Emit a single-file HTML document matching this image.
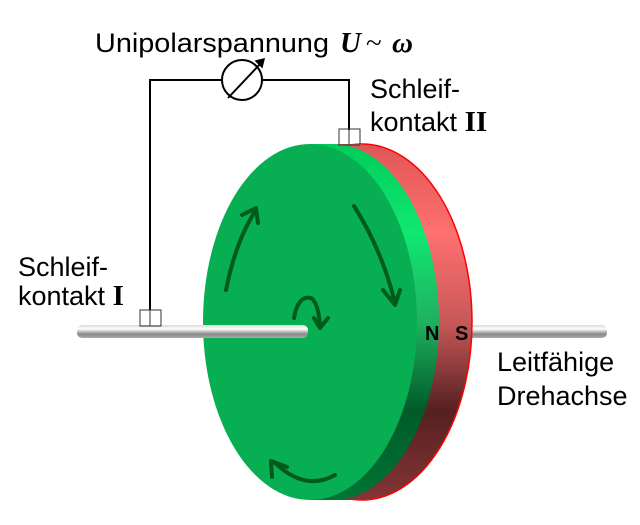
<!DOCTYPE html>
<html><head><style>
html,body{margin:0;padding:0;background:#fff;}
svg{display:block;}
</style></head><body>
<svg width="640" height="525" viewBox="0 0 640 525" xmlns="http://www.w3.org/2000/svg" font-family="Liberation Sans, sans-serif">
<defs>
<linearGradient id="rg" x1="0" y1="0" x2="0" y2="1">
<stop offset="0" stop-color="#e05555"/>
<stop offset="0.25" stop-color="#ff7070"/>
<stop offset="0.5" stop-color="#c85858"/>
<stop offset="0.75" stop-color="#552020"/>
<stop offset="1" stop-color="#853535"/>
</linearGradient>
<linearGradient id="gg" x1="0" y1="0" x2="0" y2="1">
<stop offset="0" stop-color="#00cc5a"/>
<stop offset="0.25" stop-color="#10e872"/>
<stop offset="0.5" stop-color="#20b060"/>
<stop offset="0.75" stop-color="#005a28"/>
<stop offset="1" stop-color="#007535"/>
</linearGradient>
<linearGradient id="ax" x1="0" y1="0" x2="0" y2="1">
<stop offset="0" stop-color="#d8d8d8"/>
<stop offset="0.3" stop-color="#ffffff"/>
<stop offset="0.7" stop-color="#888"/>
<stop offset="1" stop-color="#aaa"/>
</linearGradient>
</defs>
<rect x="460" y="325" width="147" height="13" rx="5" fill="url(#ax)"/>
<g fill="url(#rg)">
<ellipse cx="362" cy="322" rx="110" ry="178" stroke="#ff0000" stroke-width="1.5"/>
<rect x="312" y="144" width="50" height="356"/>
</g>
<g fill="url(#gg)">
<ellipse cx="333" cy="322" rx="106" ry="178"/>
<rect x="310" y="144" width="23" height="356"/>
</g>
<ellipse cx="310" cy="322" rx="107" ry="178" fill="#08ae52"/>
<text x="425" y="340" font-size="20" font-weight="bold" fill="#000">N</text>
<text x="455" y="340" font-size="20" font-weight="bold" fill="#000">S</text>
<rect x="77" y="325" width="231" height="13" rx="5" fill="url(#ax)"/>
<g fill="none" stroke="#005a1a" stroke-width="4" stroke-linecap="round" stroke-linejoin="round">
<path d="M226,290 Q236,240 256,210"/>
<path d="M242,215 L256,208 L258,223"/>
<path d="M354,206 Q382,250 395,303"/>
<path d="M383,290 L395,305 L400,290"/>
<path d="M294,318 Q298,295 311,298 Q318,302 320,325"/>
<path d="M314,318 L320,328 L328,318"/>
<path d="M335,475 Q305,492 274,462"/>
<path d="M272,477 L271,461 L287,467"/>
</g>
<polyline points="150,310 150,80 222,80" fill="none" stroke="#000" stroke-width="2"/>
<polyline points="262,80 349,80 349,130" fill="none" stroke="#000" stroke-width="2"/>
<circle cx="242" cy="80" r="20" fill="#fff" stroke="#000" stroke-width="2"/>
<line x1="228" y1="98" x2="262" y2="62" stroke="#000" stroke-width="2"/>
<path d="M256,61 L264,59 L262,67 Z" fill="#000" stroke="#000" stroke-width="1.5"/>
<g fill="none" stroke="#333" stroke-width="1">
<rect x="140" y="310" width="21" height="16"/>
<line x1="150" y1="310" x2="150" y2="326"/>
<rect x="339" y="129" width="21" height="16"/>
<line x1="349" y1="129" x2="349" y2="145"/>
</g>
<text x="95" y="52" font-size="27" fill="#000" textLength="234" lengthAdjust="spacingAndGlyphs">Unipolarspannung</text>
<text x="340" y="52" style="font-family:'Liberation Serif',serif;font-style:italic;font-weight:bold;font-size:29px" fill="#000">U</text>
<text x="366" y="52" style="font-family:'Liberation Serif',serif;font-size:29px" fill="#000">~</text>
<text x="392" y="52" style="font-family:'Liberation Serif',serif;font-style:italic;font-weight:bold;font-size:29px" fill="#000">ω</text>
<text x="370" y="98" font-size="27" fill="#000">Schleif-</text>
<text x="370" y="131" font-size="27" fill="#000">kontakt <tspan style="font-family:'Liberation Serif',serif;font-weight:bold;font-size:29px">II</tspan></text>
<text x="18" y="276" font-size="27" fill="#000">Schleif-</text>
<text x="18" y="305" font-size="27" fill="#000">kontakt <tspan style="font-family:'Liberation Serif',serif;font-weight:bold;font-size:29px">I</tspan></text>
<text x="497" y="371" font-size="27" fill="#000">Leitfähige</text>
<text x="497" y="405" font-size="27" fill="#000">Drehachse</text>
</svg>
</body></html>
